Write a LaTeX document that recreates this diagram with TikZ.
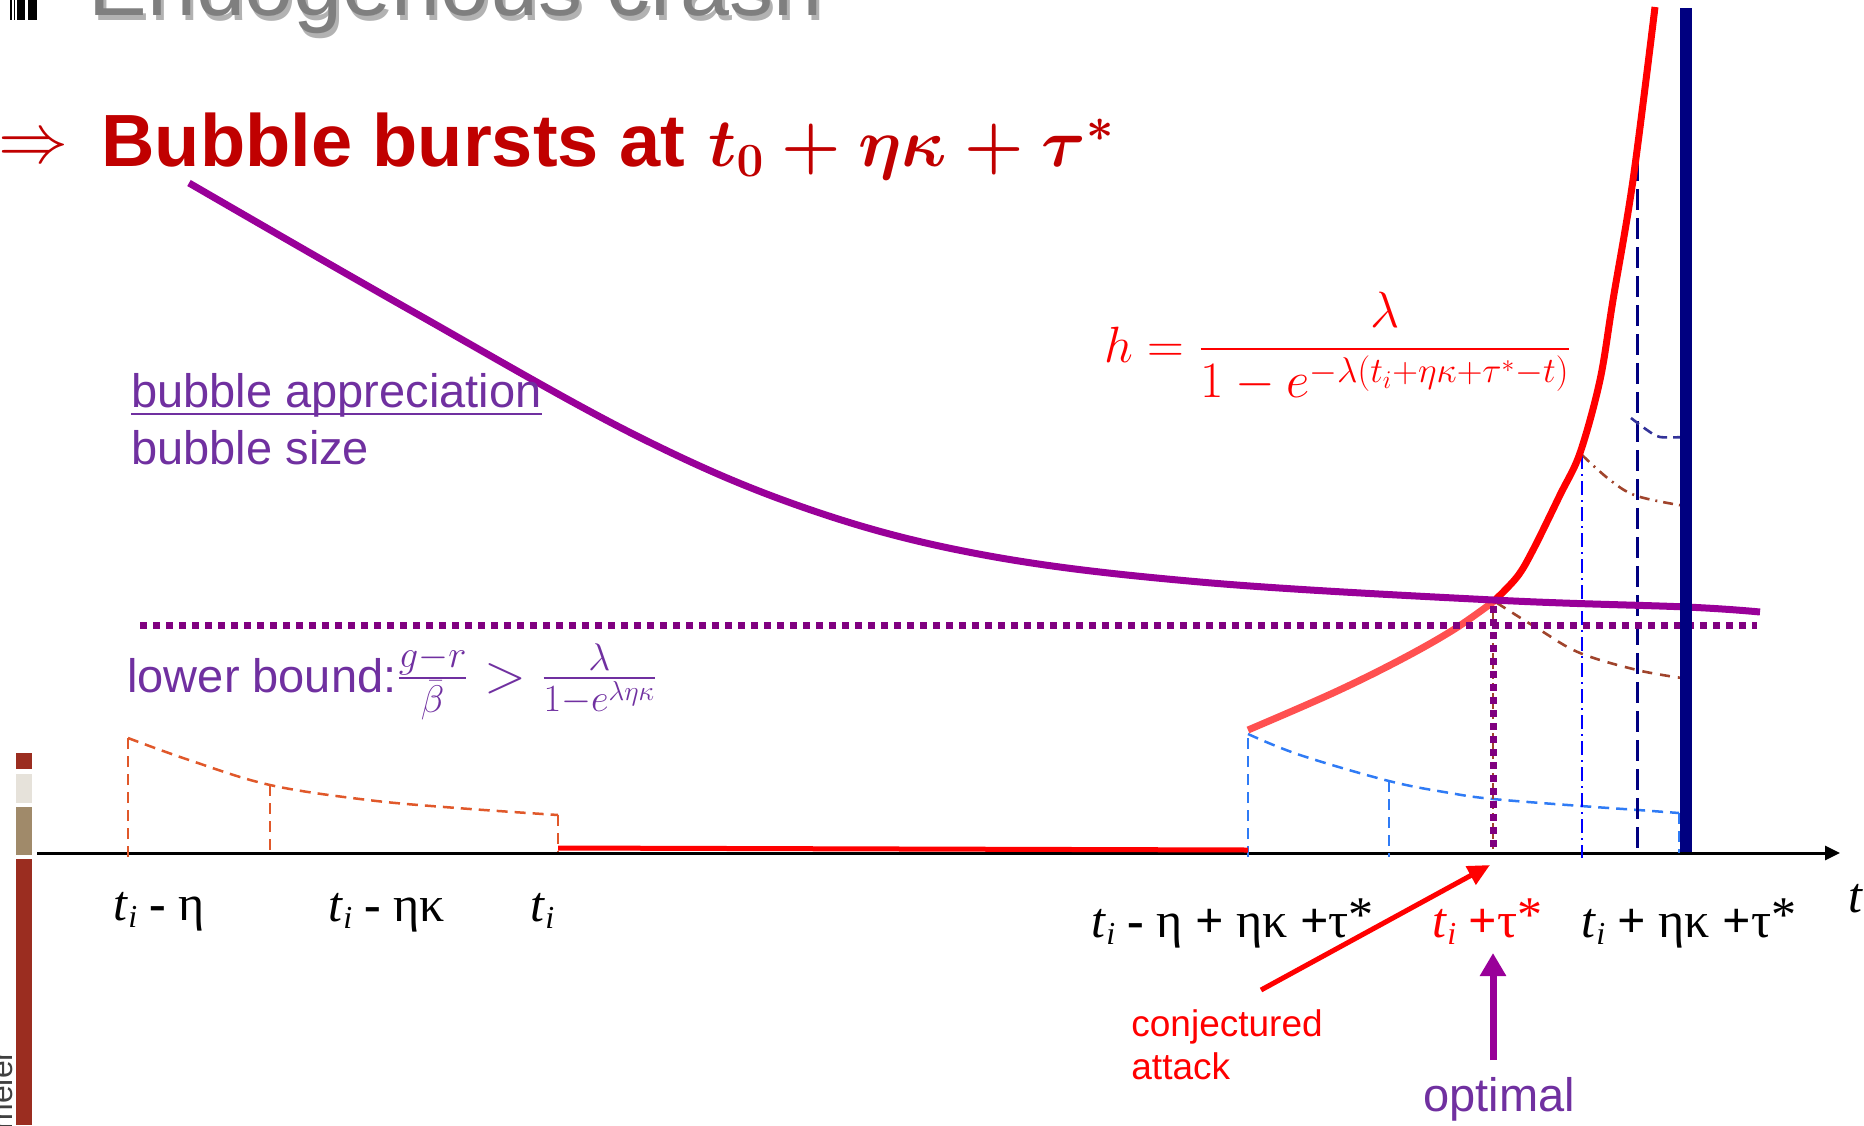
\RequirePackage{fix-cm}
\documentclass[tikz,border=0pt]{standalone}
\usepackage{amsmath}
\usepackage{fontspec}
\setmainfont{Liberation Sans}
\newfontfamily\tnr{Liberation Serif}
\usetikzlibrary{arrows.meta}
\definecolor{titlegray}{HTML}{7F7F7F}
\definecolor{titlered}{HTML}{C00000}
\definecolor{pcurve}{HTML}{990099}
\definecolor{ptext}{HTML}{7030A0}
\definecolor{pdot}{HTML}{800080}
\definecolor{lred}{HTML}{FF5050}
\definecolor{navyb}{HTML}{000080}
\definecolor{bdash}{HTML}{2F7BF5}
\definecolor{bdd}{HTML}{0000FF}
\definecolor{brownd}{HTML}{A0442C}
\definecolor{orangd}{HTML}{E0582A}
\definecolor{hookc}{HTML}{333399}
\definecolor{barA}{HTML}{9B2D20}
\definecolor{barB}{HTML}{E6E2DA}
\definecolor{barC}{HTML}{A08A6A}
\newcommand\fs[1]{\fontsize{#1}{#1}\selectfont}
\newcommand\ti{\textit{t}\raisebox{-0.14em}{\fs{16}\textit{i}}}
\newcommand\st{\raisebox{0.12em}{*}}
\begin{document}
\begin{tikzpicture}[x=0.5pt,y=-0.5pt,
  txt/.style={inner sep=0pt, anchor=base west},
  axlab/.style={txt, font=\tnr\fs{25}},
  plab/.style={txt, text=ptext, font=\fs{23.5}},
  odash/.style={draw=orangd, line width=1.25pt, dash pattern=on 5.5pt off 3.5pt},
  bdashed/.style={draw=bdash, line width=1.25pt, dash pattern=on 5.5pt off 3.5pt},
  brdash/.style={draw=brownd, line width=1.3pt, dash pattern=on 5pt off 4pt},
  brdashdot/.style={draw=brownd, line width=1.3pt, dash pattern=on 5pt off 3pt on 1pt off 3pt},
  bluedd/.style={draw=bdd, line width=1.2pt, dash pattern=on 7pt off 2.5pt on 1pt off 2.5pt},
  navydash/.style={draw=navyb, line width=1.5pt, dash pattern=on 10.5pt off 4pt},
  hookdash/.style={draw=hookc, line width=1.3pt, dash pattern=on 5pt off 3pt},
  pdotted/.style={draw=pdot, line width=3.5pt, dash pattern=on 3.5pt off 3pt}
]
\useasboundingbox (0,0) rectangle (1864,1125);

% top-left icon
\fill[black] (10,0) rectangle (12,19.5);
\fill[black] (14,0) rectangle (15.3,19.5);
\fill[black] (17.3,0) rectangle (24.7,19.5);
\fill[black] (28,0) rectangle (37.3,19.5);

% title (cut at top)
\node[txt, text=black, opacity=0.3, font=\fs{44}] (titleshadow) at (91,20) {Endogenous crash};
\node[txt, text=titlegray, font=\fs{44}] (title) at (88,15) {Endogenous crash};

% headline
\node[txt, text=titlered, font=\fs{35}] (imp) at (-2,162) {$\Rightarrow$};
\node[txt, text=titlered, font=\fs{37}\bfseries] (bub) at (101,166) {Bubble bursts at};
\node[txt, text=titlered, font=\fs{34}] (bubm) at (708,166) {$\boldsymbol{t_0+\eta\kappa+\tau^*}$};

% side bar
\fill[barA] (16,753) rectangle (32,769);
\fill[barB] (16,774) rectangle (32,803);
\fill[barC] (16,807) rectangle (32,855);
\fill[barA] (16,859) rectangle (32,1125);
\node[inner sep=0pt, anchor=base east, rotate=90, text=black!75, font=\fs{16}] (auth) at (12,1050) {Brunnermeier};

% axis
\coordinate (ax0) at (37,853);
\coordinate (ax1) at (1840,853);
\draw[line width=1.5pt, -{Triangle[length=7.5pt,width=7pt]}] (ax0) -- (ax1);

% orange dashed (t_i - eta ... t_i)
\draw[odash] (128,857) -- (128,738);
\draw[odash] plot[smooth, tension=0.6] coordinates {(128,738) (189,760) (270,785) (368,800) (457,808) (558,815)};
\draw[odash] (270,785) -- (270,857);
\draw[odash] (558,815) -- (558,852);

% blue dashed
\draw[bdashed] (1248,857) -- (1248,734);
\draw[bdashed] plot[smooth, tension=0.6] coordinates {(1248,734) (1300,755) (1389,781) (1450,793) (1493,799) (1581,806) (1638,810) (1679,813)};
\draw[bdashed] (1389,781) -- (1389,857);
\draw[bdashed] (1679,813) -- (1679,853);

% brown dashed and dash-dot
\draw[brdash] plot[smooth, tension=0.6] coordinates {(1497,603) (1540,630) (1580,653) (1637,670) (1682,678)};
\draw[brdash] (1683,678) -- (1683,852);
\draw[brdashdot] plot[smooth, tension=0.6] coordinates {(1582,455) (1610,480) (1637,496) (1685,506)};
\draw[draw=brownd, line width=1pt, dash pattern=on 3pt off 2pt] (1493,603) -- (1493,852);

% blue dash-dot, navy dashed, hook
\draw[bluedd] (1582,455) -- (1582,858);
\draw[navydash] (1637,160) -- (1637,855);
\draw[hookdash] plot[smooth, tension=0.5] coordinates {(1631,418) (1647,430) (1660,437) (1685,437)};

% red hazard
\draw[red, line width=2.5pt] (558,848) -- (1248,850);
\draw[lred, line width=3.5pt] plot[smooth, tension=0.6] coordinates {(1248,730) (1333,693) (1400,660) (1453,630) (1493,602)};
\draw[red, line width=3.5pt] plot[smooth, tension=0.55] coordinates {(1493,602) (1517,577) (1533,550) (1560,495) (1580,453) (1600,380) (1613,300) (1633,180) (1655,7)};

% purple bubble size curve
\draw[pcurve, line width=3.5pt] plot[smooth, tension=0.6] coordinates {(189,183) (410,310) (639,437) (811,510) (984,555) (1200,582) (1493,600) (1686,607) (1760,612)};

% dotted lower bound lines
\draw[pdotted] (140,625) -- (1757,625);
\draw[pdotted] (1493,606) -- (1493,850);

% navy thick vertical
\draw[navyb, line width=6pt] (1686,8) -- (1686,852);

% formulas
\node[txt, text=red, font=\fs{25.5}] (haz) at (1104,362) {$h=\dfrac{\lambda}{1-e^{-\lambda(t_i+\eta\kappa+\tau^*-t)}}$};

% purple labels
\node[plab] (ba) at (131,407) {bubble appreciation};
\draw[ptext, line width=1.2pt] ([yshift=-3.5pt]ba.base west) -- ([yshift=-3.5pt]ba.base east);
\node[plab] (bs) at (131,464) {bubble size};
\node[plab] (lb) at (127,692) {lower bound:{\fs{27.5}$\frac{g-r}{\bar\beta}>\frac{\lambda}{1-e^{\lambda\eta\kappa}}$}};

% axis labels
\node[axlab] (l1) at (113,920) {\ti{} \textbf{-} η};
\node[axlab] (l2) at (328,921) {\ti{} \textbf{-} ηκ};
\node[axlab] (l3) at (530,921) {\ti};
\node[axlab] (l4) at (1091,937) {\ti{} \textbf{-} η \textbf{+} ηκ \textbf{+}τ\st};
\node[axlab, text=red] (l5) at (1432,937) {\ti{} \textbf{+}τ\st};
\node[axlab] (l6) at (1581,937) {\ti{} \textbf{+} ηκ \textbf{+}τ\st};
\node[axlab] (tlab) at (1848,912) {\textit{t}};

% arrows
\coordinate (caS) at (1261,990);
\coordinate (caE) at (1490,865);
\draw[red, line width=2.5pt, -{Triangle[length=11pt,width=10pt]}] (caS) -- (caE);
\coordinate (opS) at (1493,1060);
\coordinate (opE) at (1493,953);
\draw[pcurve, line width=3.5pt, -{Triangle[length=11.5pt,width=12.5pt]}] (opS) -- (opE);

\node[txt, text=red, font=\fs{18.5}] (conj) at (1131,1036) {conjectured};
\node[txt, text=red, font=\fs{18.5}] (att) at (1131,1079) {attack};
\node[plab] (opt) at (1423,1111) {optimal};
\end{tikzpicture}
\end{document}
